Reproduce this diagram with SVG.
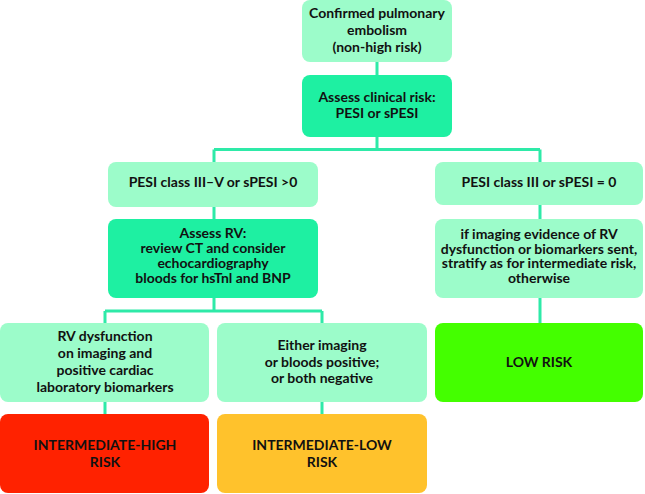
<svg xmlns="http://www.w3.org/2000/svg" width="645" height="494" viewBox="0 0 645 494">
<style>
.l{fill:#9cfcca}
.m{fill:#1ef0a2}
.t{font-family:Lato,"Liberation Sans",sans-serif;font-weight:bold;font-size:14px;fill:#111;text-anchor:middle}
.c{stroke:#2eeaa8;stroke-width:3;fill:none}
</style>
<rect width="645" height="494" fill="#fff"/>
<g id="connectors">
<path class="c" d="M377 62V75M377 137V149.5M214 149.5H540M214 149.5V162M540 149.5V162M214 207V219M540 205V219M214 298V311M105 311H322M105 311V323M322 311V323M105 402V414M322 402V414M540 298V323"/>
</g>
<g id="n1"><rect class="l" x="302" y="0" width="150" height="62" rx="8"/>
<text class="t" x="377" y="18">Confirmed pulmonary</text><text class="t" x="377" y="35">embolism</text><text class="t" x="377" y="52">(non-high risk)</text></g>
<g id="n2"><rect class="m" x="302" y="75" width="150" height="62" rx="8"/>
<text class="t" x="377" y="102">Assess clinical risk:</text><text class="t" x="377" y="118">PESI or sPESI</text></g>
<g id="n3"><rect class="l" x="108" y="162" width="210" height="45" rx="8"/>
<text class="t" x="213" y="187">PESI class III–V or sPESI &gt;0</text></g>
<g id="n4"><rect class="m" x="108" y="219" width="210" height="79" rx="8"/>
<text class="t" x="213" y="238">Assess RV:</text><text class="t" x="213" y="253">review CT and consider</text><text class="t" x="213" y="268">echocardiography</text><text class="t" x="213" y="283">bloods for hsTnl and BNP</text></g>
<g id="n5"><rect class="l" x="435" y="162" width="208" height="43" rx="8"/>
<text class="t" x="539" y="187">PESI class III or sPESI = 0</text></g>
<g id="n6"><rect class="l" x="435" y="219" width="208" height="79" rx="8"/>
<text class="t" x="539" y="239">if imaging evidence of RV</text><text class="t" x="539" y="254">dysfunction or biomarkers sent,</text><text class="t" x="539" y="268">stratify as for intermediate risk,</text><text class="t" x="539" y="283">otherwise</text></g>
<g id="n7"><rect class="l" x="0" y="323" width="209" height="79" rx="8"/>
<text class="t" x="105" y="341">RV dysfunction</text><text class="t" x="105" y="358">on imaging and</text><text class="t" x="105" y="375">positive cardiac</text><text class="t" x="105" y="392">laboratory biomarkers</text></g>
<g id="n8"><rect class="l" x="217" y="323" width="210" height="79" rx="8"/>
<text class="t" x="322" y="350">Either imaging</text><text class="t" x="322" y="367">or bloods positive;</text><text class="t" x="322" y="383">or both negative</text></g>
<g id="n9"><rect x="435" y="323" width="208" height="79" rx="8" fill="#44ff00"/>
<text class="t" x="539" y="367">LOW RISK</text></g>
<g id="n10"><rect x="0" y="414" width="209" height="79" rx="8" fill="#ff2200"/>
<text class="t" x="105" y="450">INTERMEDIATE-HIGH</text><text class="t" x="105" y="467">RISK</text></g>
<g id="n11"><rect x="217" y="414" width="210" height="79" rx="8" fill="#ffc22c"/>
<text class="t" x="322" y="450">INTERMEDIATE-LOW</text><text class="t" x="322" y="467">RISK</text></g>
</svg>
